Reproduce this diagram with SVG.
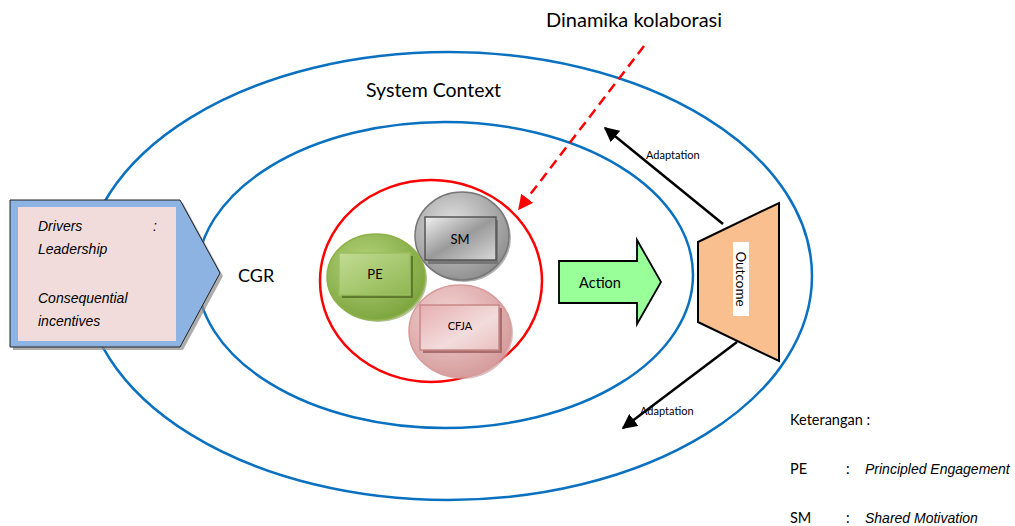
<svg xmlns="http://www.w3.org/2000/svg" width="1015" height="526" viewBox="0 0 1015 526">
<style>
.ring{fill:none;stroke:#0a70c0;stroke-width:2.5}
.t{font-family:Lato,"Liberation Sans",sans-serif;fill:#000}
.it{font-family:"Liberation Sans",Arial,sans-serif;font-style:italic}
.conn{stroke:#000;stroke-width:2.5;fill:none}
</style>
<defs>
<marker id="ah" viewBox="0 0 10 10" refX="9" refY="5" markerWidth="6" markerHeight="6" markerUnits="strokeWidth" orient="auto"><path d="M0,0 L10,5 L0,10 z" fill="#000"/></marker>
<marker id="ahr" viewBox="0 0 10 10" refX="9" refY="5" markerWidth="6" markerHeight="6" markerUnits="strokeWidth" orient="auto"><path d="M0,0 L10,5 L0,10 z" fill="#f00"/></marker>
<radialGradient id="gG" cx="0.4" cy="0.35" r="0.7"><stop offset="0" stop-color="#b4d37a"/><stop offset="1" stop-color="#7aa33c"/></radialGradient>
<radialGradient id="gS" cx="0.4" cy="0.35" r="0.7"><stop offset="0" stop-color="#e0e0e0"/><stop offset="1" stop-color="#8c8c8c"/></radialGradient>
<radialGradient id="gP" cx="0.4" cy="0.35" r="0.7"><stop offset="0" stop-color="#f4d4d4"/><stop offset="1" stop-color="#d49a9a"/></radialGradient>
<linearGradient id="rG" x1="0" y1="0" x2="1" y2="1"><stop offset="0" stop-color="#c2dc94"/><stop offset="1" stop-color="#8fb650"/></linearGradient>
<linearGradient id="rS" x1="0" y1="0" x2="1" y2="1"><stop offset="0" stop-color="#f0f0f0"/><stop offset="0.5" stop-color="#9a9a9a"/><stop offset="1" stop-color="#d8d8d8"/></linearGradient>
<linearGradient id="rP" x1="0" y1="0" x2="1" y2="1"><stop offset="0" stop-color="#e6aeb0"/><stop offset="0.6" stop-color="#f3dcdc"/><stop offset="1" stop-color="#e9c0c0"/></linearGradient>
</defs>

<g id="system-context">
<ellipse class="ring" cx="448" cy="276" rx="364" ry="224"/>
<text class="t" x="366" y="97" font-size="19.5">System Context</text>
</g>
<g id="cgr">
<ellipse class="ring" cx="445" cy="275" rx="248" ry="153"/>
<text class="t" x="238" y="282" font-size="18">CGR</text>
</g>
<g id="dinamika">
<ellipse cx="431" cy="281" rx="111" ry="101" fill="none" stroke="#f00" stroke-width="2.5"/>
<text class="t" x="546" y="27" font-size="20">Dinamika kolaborasi</text>
</g>

<g id="drivers">
<path d="M13,203 L183,203 L223,276 L183,350 L13,350 z" fill="#8a8a8a" opacity="0.7"/>
<path d="M10,200 L180,200 L220,273 L180,347 L10,347 z" fill="#8db3e2" stroke="#222" stroke-width="1"/>
<rect x="18" y="207" width="158" height="134" fill="#f2dcdb"/>
<text class="t it" x="38" y="231" font-size="14">Drivers</text>
<text class="t it" x="153" y="231" font-size="14">:</text>
<text class="t it" x="38" y="254" font-size="14">Leadership</text>
<text class="t it" x="38" y="303" font-size="14">Consequential</text>
<text class="t it" x="38" y="326" font-size="14">incentives</text>
</g>

<g id="sm">
<ellipse cx="464" cy="238" rx="47" ry="44" fill="#b0b0b0"/>
<ellipse cx="462" cy="236" rx="47" ry="44" fill="url(#gS)" stroke="#777" stroke-width="1.5"/>
<rect x="428" y="220" width="70" height="44" fill="#777"/>
<rect x="425" y="217" width="71" height="43" fill="url(#rS)" stroke="#555" stroke-width="1.5"/>
<text class="t" x="460" y="244" font-size="13" text-anchor="middle">SM</text>
</g>
<g id="pe">
<ellipse cx="378" cy="279" rx="49" ry="43" fill="#7f9a4c" opacity="0.6"/>
<ellipse cx="376" cy="277" rx="49" ry="43" fill="url(#gG)" stroke="#8eb049" stroke-width="1.5"/>
<rect x="342" y="256" width="71" height="42" fill="#5e7a2e"/>
<rect x="339" y="253" width="71" height="42" fill="url(#rG)" stroke="#9cc060" stroke-width="1.5"/>
<text class="t" x="375" y="279" font-size="13" text-anchor="middle">PE</text>
</g>
<g id="cfja">
<ellipse cx="462" cy="333" rx="51" ry="46" fill="#c9a3a3" opacity="0.7"/>
<ellipse cx="460" cy="331" rx="51" ry="46" fill="url(#gP)" stroke="#d89a9a" stroke-width="1.5"/>
<rect x="423" y="308" width="79" height="45" fill="#a86e6e"/>
<rect x="420" y="305" width="79" height="45" fill="url(#rP)" stroke="#c98888" stroke-width="1.5"/>
<text class="t" x="460" y="330" font-size="11" text-anchor="middle">CFJA</text>
</g>

<g id="action">
<path d="M559,261 L637,261 L637,240 L661,282 L637,324 L637,303 L559,303 z" fill="#99ff99" stroke="#000" stroke-width="1.8"/>
<text class="t" x="600" y="288" font-size="14.5" text-anchor="middle">Action</text>
</g>

<g id="outcome">
<path d="M698,242 L779,203 L779,361 L698,322 z" fill="#f9bf8f" stroke="#000" stroke-width="2"/>
<rect x="733" y="242" width="16" height="74" fill="#fff"/>
<text class="t" transform="translate(736,279) rotate(90)" font-size="13.5" text-anchor="middle">Outcome</text>
</g>

<g id="connectors">
<line class="conn" x1="723" y1="224" x2="605" y2="128" marker-end="url(#ah)"/>
<line class="conn" x1="737" y1="342" x2="623" y2="428" marker-end="url(#ah)"/>
<line x1="644" y1="46" x2="519" y2="209" stroke="#f00" stroke-width="2.5" stroke-dasharray="10,6" marker-end="url(#ahr)"/>
<text class="t" x="646" y="159" font-size="11">Adaptation</text>
<text class="t" x="640" y="415" font-size="11">Adaptation</text>
</g>

<g id="legend">
<text class="t" x="790" y="425" font-size="14.5">Keterangan :</text>
<text class="t" x="790" y="474" font-size="14.5">PE</text>
<text class="t" x="846" y="474" font-size="14.5">:</text>
<text class="t it" x="865" y="474" font-size="14">Principled Engagement</text>
<text class="t" x="790" y="523" font-size="14.5">SM</text>
<text class="t" x="846" y="523" font-size="14.5">:</text>
<text class="t it" x="865" y="523" font-size="14">Shared Motivation</text>
</g>
</svg>
